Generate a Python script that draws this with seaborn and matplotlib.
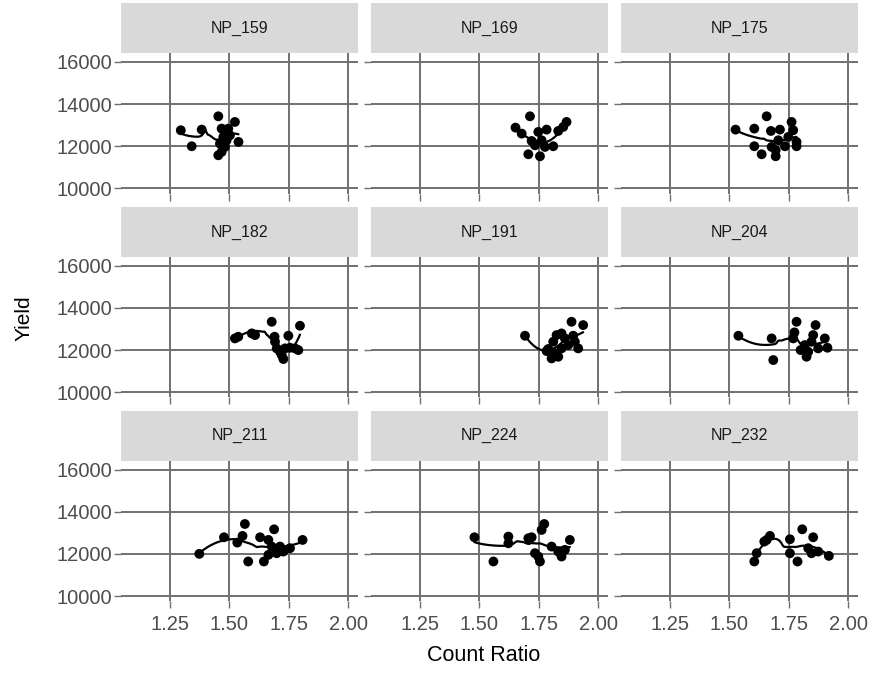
import numpy as np
import pandas as pd
import seaborn as sns
import matplotlib.pyplot as plt
from matplotlib.patches import Rectangle

# Count ratio (x) and yield (y) per nitrogen-phosphorus treatment
ratio_159 = [1.295, 1.341, 1.383, 1.453, 1.523, 1.467, 1.488, 1.474, 1.502, 1.538, 1.460, 1.453, 1.467, 1.488, 1.495, 1.481]
yield_159 = [12758, 12000, 12790, 13421, 13153, 12837, 12680, 12442, 12521, 12205, 12126, 11573, 11732, 12284, 12837, 11968]

ratio_169 = [1.652, 1.713, 1.678, 1.706, 1.755, 1.748, 1.783, 1.762, 1.734, 1.776, 1.811, 1.832, 1.867, 1.853, 1.720]
yield_169 = [12884, 13421, 12600, 11621, 11526, 12679, 12790, 12284, 12047, 11968, 12000, 12726, 13153, 12916, 12250]

ratio_175 = [1.526, 1.605, 1.657, 1.675, 1.713, 1.762, 1.769, 1.605, 1.636, 1.695, 1.678, 1.706, 1.734, 1.783, 1.783, 1.695, 1.748]
yield_175 = [12790, 12837, 13421, 12726, 12790, 13153, 12758, 12000, 11621, 11526, 11968, 12284, 12000, 12205, 12000, 11810, 12442]

ratio_182 = [1.523, 1.594, 1.608, 1.678, 1.748, 1.797, 1.690, 1.692, 1.699, 1.713, 1.727, 1.734, 1.755, 1.776, 1.790, 1.720, 1.537]
yield_182 = [12553, 12790, 12711, 13342, 12679, 13153, 12632, 12395, 12079, 11921, 11574, 12079, 12110, 12079, 12000, 11763, 12632]

ratio_191 = [1.692, 1.783, 1.804, 1.825, 1.846, 1.888, 1.937, 1.860, 1.902, 1.916, 1.846, 1.818, 1.874, 1.811, 1.832, 1.895, 1.790]
yield_191 = [12679, 11953, 11605, 12711, 12790, 13342, 13184, 12553, 12395, 12079, 12079, 11842, 12237, 12395, 11684, 12679, 12050]

ratio_204 = [1.538, 1.678, 1.685, 1.783, 1.774, 1.769, 1.863, 1.853, 1.846, 1.902, 1.913, 1.825, 1.832, 1.818, 1.874, 1.800]
yield_204 = [12679, 12553, 11526, 13342, 12837, 12553, 13184, 12711, 12395, 12553, 12110, 11684, 11921, 12237, 12079, 12000]

ratio_211 = [1.373, 1.477, 1.533, 1.555, 1.565, 1.579, 1.629, 1.645, 1.664, 1.688, 1.678, 1.699, 1.664, 1.727, 1.755, 1.808, 1.713]
yield_211 = [12000, 12787, 12535, 12850, 13417, 11638, 12787, 11638, 12661, 13165, 12346, 12031, 11953, 12110, 12268, 12661, 12346]

ratio_224 = [1.479, 1.559, 1.622, 1.622, 1.706, 1.720, 1.773, 1.762, 1.734, 1.755, 1.748, 1.804, 1.832, 1.846, 1.860, 1.881]
yield_224 = [12787, 11638, 12819, 12504, 12740, 12787, 13417, 13134, 12031, 11638, 11874, 12346, 12110, 11874, 12189, 12661]

ratio_232 = [1.605, 1.615, 1.647, 1.671, 1.755, 1.755, 1.787, 1.807, 1.853, 1.832, 1.846, 1.874, 1.919, 1.657]
yield_232 = [11638, 12031, 12583, 12850, 12693, 12031, 11638, 13165, 12787, 12268, 12031, 12110, 11905, 12661]

groups = ["NP_159", "NP_169", "NP_175", "NP_182", "NP_191", "NP_204", "NP_211", "NP_224", "NP_232"]
ratios = [ratio_159, ratio_169, ratio_175, ratio_182, ratio_191, ratio_204, ratio_211, ratio_224, ratio_232]
yields = [yield_159, yield_169, yield_175, yield_182, yield_191, yield_204, yield_211, yield_224, yield_232]

x_ticks = [1.25, 1.50, 1.75, 2.00]
y_ticks = [10000, 12000, 14000, 16000]

df = pd.concat(
    [pd.DataFrame({"Group": g, "Count Ratio": r, "Yield": y}) for g, r, y in zip(groups, ratios, yields)],
    ignore_index=True,
)


def loess(x, y, span=0.9, n=80):
    """Local quadratic regression with tricube weights."""
    x = np.asarray(x, float)
    y = np.asarray(y, float)
    grid = np.linspace(x.min(), x.max(), n)
    q = int(np.floor(span * len(x)))
    fit = []
    for g in grid:
        d = np.abs(x - g)
        h = np.sort(d)[q - 1] * (1.0 + 1e-9)
        w = np.clip(1 - (d / h) ** 3, 0, None) ** 3
        X = np.column_stack([np.ones_like(x), x - g, (x - g) ** 2])
        sw = np.sqrt(w)
        beta = np.linalg.lstsq(X * sw[:, None], y * sw, rcond=None)[0]
        fit.append(beta[0])
    return grid, np.array(fit)


sns.set_theme(style="white")
plt.rcParams["font.family"] = ["Liberation Sans", "DejaVu Sans"]

grid_color = "#707070"
text_color = "#4d4d4d"

g = sns.FacetGrid(df, col="Group", col_wrap=3, col_order=groups, sharex=True, sharey=True,
                  height=2, aspect=1.2, despine=False)
g.map_dataframe(sns.scatterplot, x="Count Ratio", y="Yield", color="black", s=50,
                edgecolor="none", zorder=3)

fig = g.figure
fig.set_size_inches(8.72, 6.74)
fig.subplots_adjust(left=0.139, right=0.984, top=0.921, bottom=0.108, wspace=0.055, hspace=0.452)

strip_h = 50 / 140.5
for ax, name in zip(g.axes.flat, groups):
    sub = df[df["Group"] == name]
    gx, gy = loess(sub["Count Ratio"], sub["Yield"])
    sns.lineplot(x=gx, y=gy, ax=ax, color="black", linewidth=1.6, zorder=2)
    ax.set_xlim(1.044, 2.042)
    ax.set_ylim(9754, 16412)
    ax.set_xticks(x_ticks)
    ax.set_yticks(y_ticks)
    ax.grid(True, color=grid_color, linewidth=1.4, zorder=0)
    ax.set_axisbelow(True)
    for sp in ax.spines.values():
        sp.set_visible(False)
    ax.tick_params(axis="both", which="both", length=5, width=1.0, color=grid_color,
                   labelcolor=text_color, labelsize=14.5, bottom=True, left=True)
    ax.tick_params(axis="y", pad=1.5)
    ax.tick_params(axis="x", pad=5)
    ax.set_title("")
    ax.set_xlabel("")
    ax.set_ylabel("")
    ax.add_patch(Rectangle((0, 1), 1, strip_h, transform=ax.transAxes, clip_on=False,
                           facecolor="#d9d9d9", edgecolor="none"))
    ax.text(0.5, 1 + strip_h / 2, name, transform=ax.transAxes, ha="center", va="center",
            fontsize=11.5, color="#1a1a1a")

for i, ax in enumerate(g.axes.flat):
    if i % 3 != 0:
        ax.tick_params(labelleft=False)
    if i < 6:
        ax.tick_params(labelbottom=False)
    ax.xaxis.set_major_formatter(plt.FuncFormatter(lambda v, p: f"{v:.2f}"))

fig.text(0.555, 0.028, "Count Ratio", ha="center", va="center", fontsize=15.5, color="black")
fig.text(0.028, 0.528, "Yield", ha="center", va="center", rotation=90, fontsize=15, color="black")

fig.savefig("out.png", dpi=100)
